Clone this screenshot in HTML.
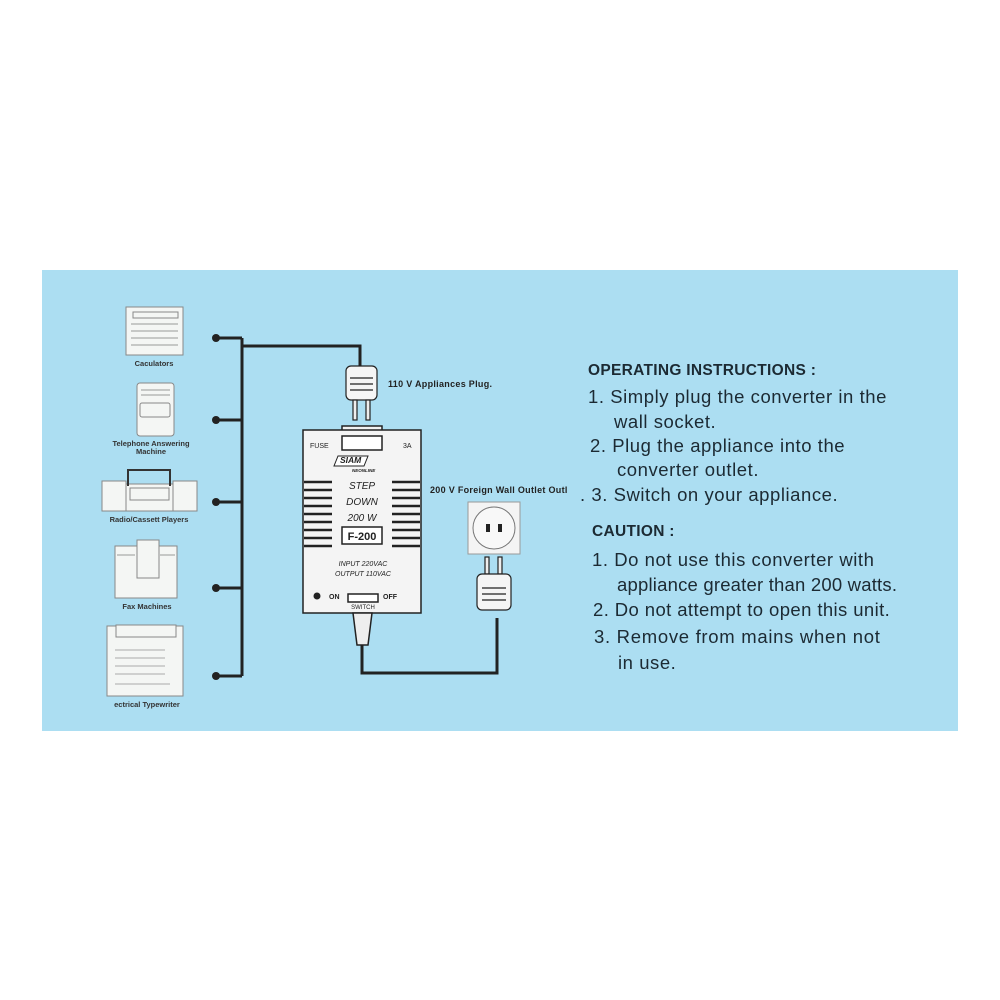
<!DOCTYPE html>
<html><head><meta charset="utf-8"><style>
body{margin:0;background:#fff;width:1000px;height:1000px;position:relative;overflow:hidden;font-family:"Liberation Sans",sans-serif}
.panel{position:absolute;left:42px;top:270px;width:916px;height:461px;background:#acdef2}
.t{position:absolute;color:#1c2a33;font-size:18.5px;white-space:nowrap;letter-spacing:0.55px}
.b{font-weight:bold;font-size:15px;letter-spacing:0.3px}
</style></head><body>
<div class="panel"></div>
<svg width="1000" height="1000" style="position:absolute;left:0;top:0" font-family="Liberation Sans, sans-serif">
<g stroke="#222" stroke-width="3" fill="none">
<path d="M242 338 V676"/>
<path d="M216 338 H242 M216 420 H242 M216 502 H242 M216 588 H242 M216 676 H242"/>
<path d="M242 346 H360 V368"/>
<path d="M362 640 V673 H497 V618"/>
</g>
<g fill="#222"><circle cx="216" cy="338" r="4"/><circle cx="216" cy="420" r="4"/><circle cx="216" cy="502" r="4"/><circle cx="216" cy="588" r="4"/><circle cx="216" cy="676" r="4"/></g>
<g fill="#f4f6f4" stroke="#888" stroke-width="1">
<rect x="126" y="307" width="57" height="48"/><rect x="133" y="312" width="45" height="6"/>
<path d="M131 324 H178 M131 331 H178 M131 338 H178 M131 345 H178" stroke="#999"/>
<rect x="137" y="383" width="37" height="53" rx="3"/><rect x="140" y="403" width="30" height="14" rx="2"/>
<path d="M141 390 H170 M141 395 H170" stroke="#999"/>
<rect x="102" y="481" width="24" height="30"/><rect x="126" y="484" width="47" height="27"/><rect x="173" y="481" width="24" height="30"/>
<rect x="130" y="488" width="39" height="12"/>
<rect x="115" y="546" width="62" height="52"/><rect x="137" y="540" width="22" height="38"/>
<path d="M117 555 H135 M160 555 H175" stroke="#999"/>
<rect x="107" y="626" width="76" height="70"/><rect x="116" y="625" width="60" height="12"/>
<path d="M115 650 H165 M115 658 H165 M115 666 H165 M115 674 H165 M115 684 H170" stroke="#aaa"/>
</g>
<path d="M128 486 V470 H170 V486" stroke="#333" stroke-width="2" fill="none"/>
<g fill="#333" font-size="7.5" font-weight="bold" text-anchor="middle">
<text x="154" y="366">Caculators</text>
<text x="151" y="446">Telephone Answering</text><text x="151" y="454">Machine</text>
<text x="149" y="522">Radio/Cassett Players</text>
<text x="147" y="609">Fax Machines</text>
<text x="147" y="707">ectrical Typewriter</text>
</g>
<g stroke="#222" stroke-width="1.2">
<rect x="346" y="366" width="31" height="34" rx="5" fill="#f5f5f5"/>
<path d="M350 378 H373 M350 384 H373 M350 390 H373" fill="none"/>
<rect x="353" y="400" width="4" height="20" fill="#eee"/><rect x="366" y="400" width="4" height="20" fill="#eee"/>
</g>
<g stroke="#222" stroke-width="1.5">
<rect x="342" y="426" width="40" height="6" fill="#f2f2f2"/>
<rect x="303" y="430" width="118" height="183" fill="#f4f4f4"/>
<rect x="342" y="436" width="40" height="14" fill="#fff"/>
<rect x="342" y="527" width="40" height="17" fill="#fff"/>
<rect x="348" y="594" width="30" height="8" fill="#fff"/>
<path d="M353 613 H372 L368 645 H357 Z" fill="#eee"/>
</g>
<g stroke="#222" stroke-width="2.5">
<path d="M304 482 H332 M304 490 H332 M304 498 H332 M304 506 H332 M304 514 H332 M304 522 H332 M304 530 H332 M304 538 H332 M304 546 H332"/>
<path d="M392 482 H420 M392 490 H420 M392 498 H420 M392 506 H420 M392 514 H420 M392 522 H420 M392 530 H420 M392 538 H420 M392 546 H420"/>
</g>
<circle cx="317" cy="596" r="3.5" fill="#222"/>
<path d="M338 456 L368 456 L364 466 L334 466 Z" fill="#fff" stroke="#222"/>
<g fill="#222" font-size="7">
<text x="310" y="448">FUSE</text><text x="403" y="448">3A</text>
<text x="340" y="463" font-weight="bold" font-style="italic" font-size="8.5">SIAM</text>
<text x="352" y="472" font-weight="bold" font-style="italic" font-size="4.5">NEONLINE</text>
<g font-size="10" font-style="italic" text-anchor="middle"><text x="362" y="489">STEP</text><text x="362" y="505">DOWN</text><text x="362" y="521">200 W</text></g>
<text x="362" y="540" font-size="11" font-weight="bold" text-anchor="middle">F-200</text>
<g font-size="7" font-style="italic" text-anchor="middle"><text x="363" y="566">INPUT 220VAC</text><text x="363" y="576">OUTPUT 110VAC</text></g>
<text x="329" y="599" font-weight="bold">ON</text><text x="383" y="599" font-weight="bold">OFF</text>
<text x="363" y="609" font-size="6" text-anchor="middle">SWITCH</text>
</g>
<g fill="#222" font-size="9" font-weight="bold" letter-spacing="0.3">
<text x="388" y="387">110 V  Appliances Plug.</text>
<text x="430" y="493">200 V Foreign Wall Outlet Outl</text>
</g>
<rect x="468" y="502" width="52" height="52" fill="#f4f4f4" stroke="#999"/>
<circle cx="494" cy="528" r="21" fill="#f8f8f8" stroke="#777"/>
<rect x="486" y="524" width="4" height="8" fill="#222"/><rect x="498" y="524" width="4" height="8" fill="#222"/>
<g stroke="#222" stroke-width="1.2">
<rect x="485" y="557" width="4" height="17" fill="#eee"/><rect x="498" y="557" width="4" height="17" fill="#eee"/>
<rect x="477" y="574" width="34" height="36" rx="5" fill="#f5f5f5"/>
<path d="M482 588 H506 M482 594 H506 M482 600 H506" fill="none"/>
</g>
</svg>
<div class="t b" style="left:588px;top:362px;font-size:15.5px">OPERATING INSTRUCTIONS :</div>
<div class="t" style="left:588px;top:386px">1. Simply plug the converter in the</div>
<div class="t" style="left:614px;top:411px">wall socket.</div>
<div class="t" style="left:590px;top:435px">2. Plug the appliance into the</div>
<div class="t" style="left:617px;top:459px">converter outlet.</div>
<div class="t" style="left:580px;top:484px">. 3. Switch on your appliance.</div>
<div class="t b" style="left:592px;top:523px;font-size:15.5px">CAUTION :</div>
<div class="t" style="left:592px;top:549px">1. Do not use this converter with</div>
<div class="t" style="left:617px;top:574px;letter-spacing:0.2px">appliance greater than 200 watts.</div>
<div class="t" style="left:593px;top:599px;letter-spacing:0.4px">2. Do not attempt to open this unit.</div>
<div class="t" style="left:594px;top:626px;letter-spacing:0.7px">3. Remove from mains when not</div>
<div class="t" style="left:618px;top:652px">in use.</div>
</body></html>
